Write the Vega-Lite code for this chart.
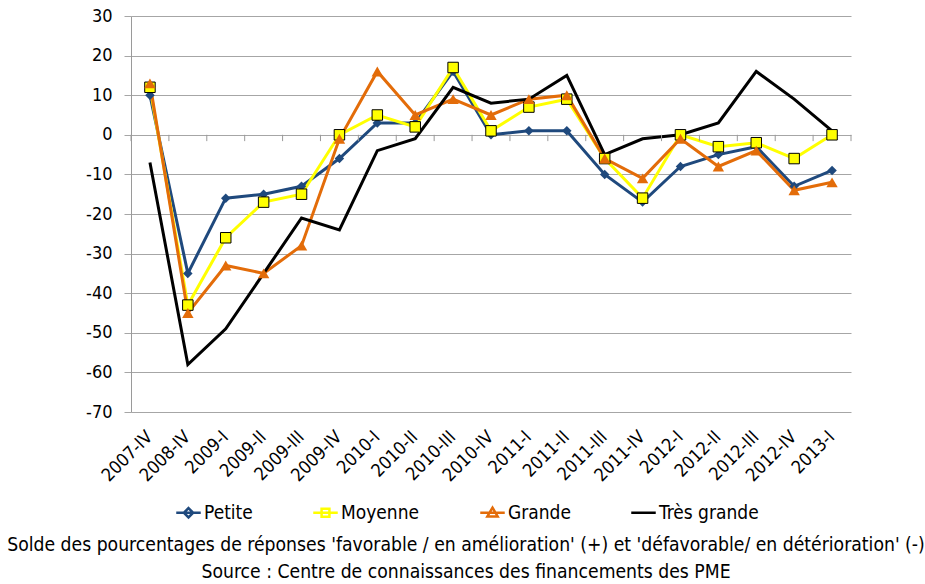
{
  "$schema": "https://vega.github.io/schema/vega-lite/v6.json",
  "width": 720,
  "height": 396,
  "autosize": {"type": "none"},
  "padding": {"left": 131, "top": 16, "right": 74, "bottom": 172},
  "background": "white",
  "config": {
    "font": "DejaVu Sans Condensed, Liberation Sans, sans-serif",
    "view": {"stroke": null},
    "axisY": {"labelOverlap": false}
  },
  "datasets": {
    "d": [
      {"q": "2007-IV", "s": "Petite", "v": 10}, {"q": "2008-IV", "s": "Petite", "v": -35}, {"q": "2009-I", "s": "Petite", "v": -16}, {"q": "2009-II", "s": "Petite", "v": -15}, {"q": "2009-III", "s": "Petite", "v": -13}, {"q": "2009-IV", "s": "Petite", "v": -6}, {"q": "2010-I", "s": "Petite", "v": 3}, {"q": "2010-II", "s": "Petite", "v": 3}, {"q": "2010-III", "s": "Petite", "v": 16}, {"q": "2010-IV", "s": "Petite", "v": 0}, {"q": "2011-I", "s": "Petite", "v": 1}, {"q": "2011-II", "s": "Petite", "v": 1}, {"q": "2011-III", "s": "Petite", "v": -10}, {"q": "2011-IV", "s": "Petite", "v": -17}, {"q": "2012-I", "s": "Petite", "v": -8}, {"q": "2012-II", "s": "Petite", "v": -5}, {"q": "2012-III", "s": "Petite", "v": -3}, {"q": "2012-IV", "s": "Petite", "v": -13}, {"q": "2013-I", "s": "Petite", "v": -9},
      {"q": "2007-IV", "s": "Moyenne", "v": 12}, {"q": "2008-IV", "s": "Moyenne", "v": -43}, {"q": "2009-I", "s": "Moyenne", "v": -26}, {"q": "2009-II", "s": "Moyenne", "v": -17}, {"q": "2009-III", "s": "Moyenne", "v": -15}, {"q": "2009-IV", "s": "Moyenne", "v": 0}, {"q": "2010-I", "s": "Moyenne", "v": 5}, {"q": "2010-II", "s": "Moyenne", "v": 2}, {"q": "2010-III", "s": "Moyenne", "v": 17}, {"q": "2010-IV", "s": "Moyenne", "v": 1}, {"q": "2011-I", "s": "Moyenne", "v": 7}, {"q": "2011-II", "s": "Moyenne", "v": 9}, {"q": "2011-III", "s": "Moyenne", "v": -6}, {"q": "2011-IV", "s": "Moyenne", "v": -16}, {"q": "2012-I", "s": "Moyenne", "v": 0}, {"q": "2012-II", "s": "Moyenne", "v": -3}, {"q": "2012-III", "s": "Moyenne", "v": -2}, {"q": "2012-IV", "s": "Moyenne", "v": -6}, {"q": "2013-I", "s": "Moyenne", "v": 0},
      {"q": "2007-IV", "s": "Grande", "v": 13}, {"q": "2008-IV", "s": "Grande", "v": -45}, {"q": "2009-I", "s": "Grande", "v": -33}, {"q": "2009-II", "s": "Grande", "v": -35}, {"q": "2009-III", "s": "Grande", "v": -28}, {"q": "2009-IV", "s": "Grande", "v": -1}, {"q": "2010-I", "s": "Grande", "v": 16}, {"q": "2010-II", "s": "Grande", "v": 5}, {"q": "2010-III", "s": "Grande", "v": 9}, {"q": "2010-IV", "s": "Grande", "v": 5}, {"q": "2011-I", "s": "Grande", "v": 9}, {"q": "2011-II", "s": "Grande", "v": 10}, {"q": "2011-III", "s": "Grande", "v": -6}, {"q": "2011-IV", "s": "Grande", "v": -11}, {"q": "2012-I", "s": "Grande", "v": -1}, {"q": "2012-II", "s": "Grande", "v": -8}, {"q": "2012-III", "s": "Grande", "v": -4}, {"q": "2012-IV", "s": "Grande", "v": -14}, {"q": "2013-I", "s": "Grande", "v": -12},
      {"q": "2007-IV", "s": "Très grande", "v": -7}, {"q": "2008-IV", "s": "Très grande", "v": -58}, {"q": "2009-I", "s": "Très grande", "v": -49}, {"q": "2009-II", "s": "Très grande", "v": -35}, {"q": "2009-III", "s": "Très grande", "v": -21}, {"q": "2009-IV", "s": "Très grande", "v": -24}, {"q": "2010-I", "s": "Très grande", "v": -4}, {"q": "2010-II", "s": "Très grande", "v": -1}, {"q": "2010-III", "s": "Très grande", "v": 12}, {"q": "2010-IV", "s": "Très grande", "v": 8}, {"q": "2011-I", "s": "Très grande", "v": 9}, {"q": "2011-II", "s": "Très grande", "v": 15}, {"q": "2011-III", "s": "Très grande", "v": -5}, {"q": "2011-IV", "s": "Très grande", "v": -1}, {"q": "2012-I", "s": "Très grande", "v": 0}, {"q": "2012-II", "s": "Très grande", "v": 3}, {"q": "2012-III", "s": "Très grande", "v": 16}, {"q": "2012-IV", "s": "Très grande", "v": 9}, {"q": "2013-I", "s": "Très grande", "v": 1}
    ]
  },
  "data": {"name": "d"},
  "title": {
    "text": ["Solde des pourcentages de réponses 'favorable / en amélioration' (+) et 'défavorable/ en détérioration' (-)", "Source : Centre de connaissances des financements des PME"],
    "orient": "bottom",
    "anchor": "middle",
    "frame": "group",
    "fontSize": 19.2,
    "fontWeight": "normal",
    "color": "black",
    "lineHeight": 27,
    "offset": 13,
    "dx": -25
  },
  "resolve": {"axis": {"x": "independent"}},
  "layer": [
    {
      "mark": {"type": "line", "strokeWidth": 3},
      "encoding": {
        "x": {"field": "q", "type": "nominal", "sort": null, "scale": {"type": "band", "paddingInner": 0, "paddingOuter": 0},
          "axis": {"orient": "bottom", "title": null, "domain": false, "ticks": false, "labelAngle": -45, "labelAlign": "right", "labelBaseline": "middle", "labelFontSize": 18, "labelColor": "black", "labelPadding": 22, "labelOverlap": false, "grid": false}},
        "y": {"field": "v", "type": "quantitative", "scale": {"domain": [-70, 30]},
          "axis": {"title": null, "values": [-70, -60, -50, -40, -30, -20, -10, 0, 10, 20, 30], "tickCount": 20, "labelExpr": "datum.value + ''", "labelOverlap": false, "grid": true, "gridColor": "#a6a6a6", "gridWidth": 1, "domain": true, "domainColor": "#9a9a9a", "ticks": true, "tickColor": "#a6a6a6", "tickSize": 7, "labelFontSize": 18, "labelColor": "black", "labelPadding": 12}},
        "color": {"field": "s", "type": "nominal", "scale": {"domain": ["Petite", "Moyenne", "Grande", "Très grande"], "range": ["#1F497D", "#FFFF00", "#E36C09", "#000000"]}},
        "order": {"field": "s"}
      }
    },
    {
      "transform": [{"filter": "datum.s === 'Petite'"}],
      "mark": {"type": "rule", "color": "#9a9a9a", "strokeWidth": 1},
      "encoding": {
        "x": {"field": "q", "type": "nominal", "sort": null, "bandPosition": 0, "axis": null},
        "y": {"datum": 0, "type": "quantitative"},
        "y2": {"datum": -1.6}
      }
    },
    {
      "transform": [{"filter": "datum.s === 'Petite' && datum.q === '2013-I'"}],
      "mark": {"type": "rule", "color": "#9a9a9a", "strokeWidth": 1},
      "encoding": {
        "x": {"field": "q", "type": "nominal", "sort": null, "bandPosition": 1, "axis": null},
        "y": {"datum": 0, "type": "quantitative"},
        "y2": {"datum": -1.6}
      }
    },
    {
      "transform": [{"filter": "datum.s === 'Petite'"}],
      "mark": {"type": "point", "shape": "diamond", "filled": true, "color": "#1F497D", "size": 90, "opacity": 1},
      "encoding": {
        "x": {"field": "q", "type": "nominal", "sort": null, "axis": null},
        "y": {"field": "v", "type": "quantitative"}
      }
    },
    {
      "transform": [{"filter": "datum.s === 'Moyenne'"}],
      "mark": {"type": "point", "shape": "square", "filled": true, "fill": "#FFFF00", "stroke": "#000000", "strokeWidth": 1, "size": 110, "opacity": 1},
      "encoding": {
        "x": {"field": "q", "type": "nominal", "sort": null, "axis": null},
        "y": {"field": "v", "type": "quantitative"}
      }
    },
    {
      "transform": [{"filter": "datum.s === 'Grande'"}],
      "mark": {"type": "point", "shape": "triangle-up", "filled": true, "color": "#E36C09", "size": 130, "opacity": 1},
      "encoding": {
        "x": {"field": "q", "type": "nominal", "sort": null, "axis": null},
        "y": {"field": "v", "type": "quantitative"}
      }
    },
    {
      "mark": {"type": "point", "strokeWidth": 2.5},
      "encoding": {
        "x": {"field": "q", "type": "nominal", "sort": null, "axis": null},
        "y": {"field": "v", "type": "quantitative"},
        "opacity": {"condition": {"test": "false", "value": 1}, "value": 0},
        "color": {"field": "s", "type": "nominal",
          "legend": {"orient": "none", "legendX": 44, "legendY": 483, "direction": "horizontal", "title": null, "labelFontSize": 19, "labelColor": "black", "symbolSize": 600, "symbolStrokeWidth": 2.5, "columnPadding": 55, "labelOffset": 2,
            "encode": {"symbols": {"update": {"fill": {"scale": "color", "field": "value"}, "opacity": {"value": 1}}}}}},
        "shape": {"field": "s", "type": "nominal", "scale": {"domain": ["Petite", "Moyenne", "Grande", "Très grande"], "range": ["M-1,0H1M0,-0.38L0.38,0L0,0.38L-0.38,0Z", "M-1,0H1M-0.32,-0.32H0.32V0.32H-0.32Z", "M-1,0H1M0,-0.42L0.42,0.3H-0.42Z", "M-1,0H1"]}}
      }
    }
  ]
}
